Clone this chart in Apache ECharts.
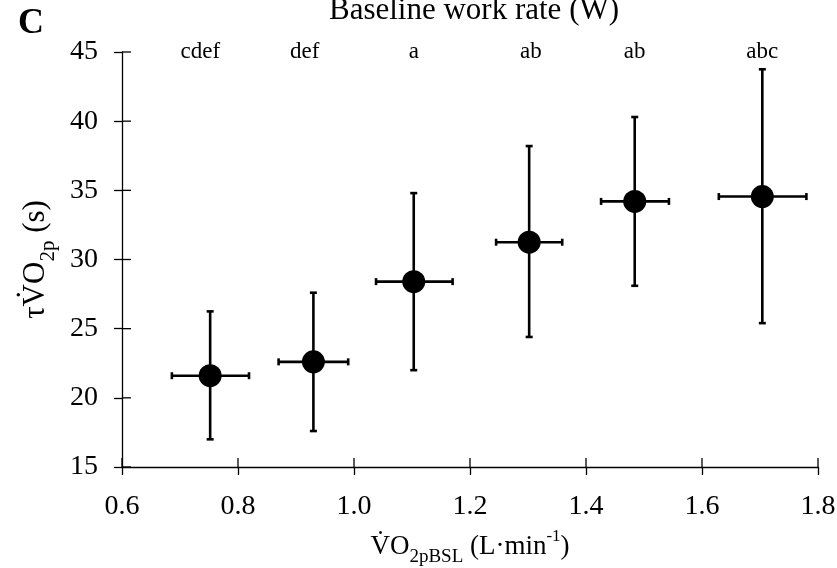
<!DOCTYPE html>
<html><head><meta charset="utf-8">
<script src="https://cdn.jsdelivr.net/npm/echarts@6/dist/echarts.min.js"></script>
<style>html,body{margin:0;padding:0;background:#fff}#c{width:837px;height:568px}</style>
</head><body><div id="c"></div>
<script>
// Data
var xMean = [0.752, 0.930, 1.103, 1.302, 1.484, 1.704];
var xLow  = [0.686, 0.870, 1.038, 1.245, 1.426, 1.629];
var xHigh = [0.819, 0.990, 1.170, 1.359, 1.543, 1.780];
var yMean = [21.6, 22.6, 28.4, 31.25, 34.2, 34.55];
var yLow  = [17.0, 17.6, 22.0, 24.4, 28.1, 25.4];
var yHigh = [26.25, 27.6, 34.8, 38.2, 40.3, 43.75];
var letters = ['cdef', 'def', 'a', 'ab', 'ab', 'abc'];
var letterX = [0.735, 0.915, 1.103, 1.305, 1.484, 1.704];
var letterY = [45, 45, 45, 45, 45, 45];
var xTicks = [0.6, 0.8, 1.0, 1.2, 1.4, 1.6, 1.8];
var yTicks = [15, 20, 25, 30, 35, 40, 45];

var FONT = 'Liberation Serif';
var chart = echarts.init(document.getElementById('c'), null, {renderer: 'canvas'});

var X_MIN = 0.6, X_MAX = 1.8, Y_MIN = 15, Y_MAX = 45;
var errData = xMean.map(function (x, i) { return [x, yMean[i], xLow[i], xHigh[i], yLow[i], yHigh[i]]; });
var ptData = xMean.map(function (x, i) { return [x, yMean[i]]; });
var letterData = letterX.map(function (x, i) { return [x, letterY[i], letters[i]]; });
// inner halves of the crossing tick marks
var xInner = xTicks.map(function (v) { return [v, Y_MIN]; });
var yInner = yTicks.map(function (v) { return [X_MIN, v]; });

var tickStyle = {color: '#000', width: 1.3};
var TICK_IN = 9;

chart.setOption({
  animation: false,
  backgroundColor: '#fff',
  title: {
    text: 'Baseline work rate (W)',
    left: 469, top: -10, textAlign: 'center',
    textStyle: {fontFamily: FONT, fontWeight: 'normal', fontSize: 31, color: '#000'}
  },
  graphic: [{
    type: 'text', left: 18, top: 6,
    style: {text: 'C', fontFamily: FONT, fontWeight: 'bold', fontSize: 36, fill: '#000'}
  }],
  grid: {left: 122, right: 19, top: 52, bottom: 101, containLabel: false, outerBoundsMode: 'none'},
  xAxis: {
    type: 'value', min: X_MIN, max: X_MAX, interval: 0.2, position: 'bottom',
    axisLine: {show: true, onZero: false, lineStyle: {color: '#000', width: 1.3}},
    splitLine: {show: false},
    axisTick: {show: true, inside: false, length: 8, lineStyle: tickStyle},
    axisLabel: {show: true, fontFamily: FONT, fontSize: 28, color: '#000', margin: 26,
      formatter: function (v) { return v.toFixed(1); }},
    name: '{b|V\u0307O}{s|2pBSL}{b| (L\u00b7min}{u|-1}{b|)}',
    nameLocation: 'middle', nameGap: 61,
    nameTextStyle: {
      rich: {
        b: {fontFamily: FONT, fontSize: 27, color: '#000', verticalAlign: 'bottom', lineHeight: 32},
        s: {fontFamily: FONT, fontSize: 19, color: '#000', verticalAlign: 'bottom', lineHeight: 22, padding: [0, 0, -7, 0]},
        u: {fontFamily: FONT, fontSize: 17, color: '#000', verticalAlign: 'top', lineHeight: 32}
      }
    }
  },
  yAxis: {
    type: 'value', min: Y_MIN, max: Y_MAX, interval: 5, position: 'left',
    axisLine: {show: true, onZero: false, lineStyle: {color: '#000', width: 1.3}},
    splitLine: {show: false},
    axisTick: {show: true, inside: false, length: 8, lineStyle: tickStyle},
    axisLabel: {show: true, fontFamily: FONT, fontSize: 28, color: '#000', margin: 24},
    name: '{b|\u03c4V\u0307O}{s|2p}{b| (s)}',
    nameLocation: 'middle', nameGap: 67, nameRotate: 90,
    nameTextStyle: {
      rich: {
        b: {fontFamily: FONT, fontSize: 31, color: '#000', verticalAlign: 'bottom', lineHeight: 36},
        s: {fontFamily: FONT, fontSize: 21, color: '#000', verticalAlign: 'bottom', lineHeight: 24, padding: [0, 0, -8, 0]}
      }
    }
  },
  series: [
    {
      type: 'custom', data: xInner, z: 5, silent: true, clip: false,
      renderItem: function (params, api) {
        var p = api.coord([api.value(0), api.value(1)]);
        return {type: 'line', shape: {x1: p[0], y1: p[1], x2: p[0], y2: p[1] - TICK_IN},
          style: {stroke: '#000', lineWidth: 1.3}};
      }
    },
    {
      type: 'custom', data: yInner, z: 5, silent: true, clip: false,
      renderItem: function (params, api) {
        var p = api.coord([api.value(0), api.value(1)]);
        return {type: 'line', shape: {x1: p[0], y1: p[1], x2: p[0] + TICK_IN, y2: p[1]},
          style: {stroke: '#000', lineWidth: 1.3}};
      }
    },
    {
      type: 'custom', data: errData, z: 2,
      renderItem: function (params, api) {
        var c = api.coord([api.value(0), api.value(1)]);
        var l = api.coord([api.value(2), api.value(1)]);
        var r = api.coord([api.value(3), api.value(1)]);
        var lo = api.coord([api.value(0), api.value(4)]);
        var hi = api.coord([api.value(0), api.value(5)]);
        var st = {stroke: '#000', lineWidth: 2.6};
        var cw = 3.5;
        return {type: 'group', children: [
          {type: 'line', shape: {x1: l[0], y1: c[1], x2: r[0], y2: c[1]}, style: st},
          {type: 'line', shape: {x1: c[0], y1: lo[1], x2: c[0], y2: hi[1]}, style: st},
          {type: 'line', shape: {x1: l[0], y1: c[1] - cw, x2: l[0], y2: c[1] + cw}, style: st},
          {type: 'line', shape: {x1: r[0], y1: c[1] - cw, x2: r[0], y2: c[1] + cw}, style: st},
          {type: 'line', shape: {x1: c[0] - cw, y1: lo[1], x2: c[0] + cw, y2: lo[1]}, style: st},
          {type: 'line', shape: {x1: c[0] - cw, y1: hi[1], x2: c[0] + cw, y2: hi[1]}, style: st}
        ]};
      }
    },
    {
      type: 'scatter', data: ptData, z: 3,
      symbol: 'circle', symbolSize: 23, itemStyle: {color: '#000', opacity: 1}
    },
    {
      type: 'scatter', data: letterData, z: 4,
      symbolSize: 2, itemStyle: {color: 'rgba(0,0,0,0)'}, silent: true,
      label: {show: true, position: 'inside', fontFamily: FONT, fontSize: 23, color: '#000',
        textBorderWidth: 0, opacity: 1,
        formatter: function (p) { return p.data[2]; }}
    }
  ]
});
</script></body></html>
